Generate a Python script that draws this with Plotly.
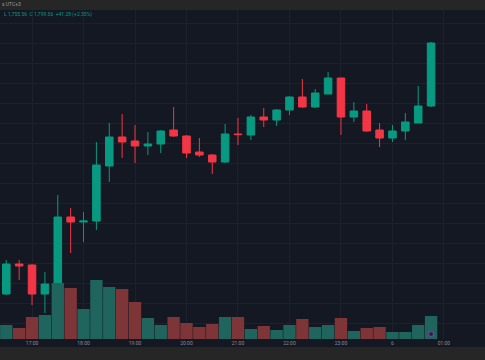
import plotly.graph_objects as go
import pandas as pd

# ---- data ----
times = pd.date_range("2023-03-05 16:30", periods=34, freq="15min")
opens = [1674.5, 1689.5, 1689.0, 1674.5, 1679.0, 1713.0, 1710.5, 1711.0, 1738.5, 1753.0,
         1751.0, 1748.5, 1749.5, 1756.5, 1753.5, 1745.5, 1744.0, 1740.5, 1754.5, 1754.0,
         1763.0, 1761.5, 1766.5, 1773.0, 1768.0, 1774.5, 1782.5, 1763.0, 1766.0, 1756.5,
         1752.5, 1756.0, 1760.0, 1768.5]
highs = [1691.5, 1691.5, 1689.5, 1685.5, 1724.0, 1717.5, 1715.5, 1750.5, 1760.0, 1764.5,
         1759.0, 1755.5, 1756.5, 1768.0, 1754.0, 1752.5, 1744.5, 1759.5, 1762.5, 1764.0,
         1767.5, 1767.0, 1773.5, 1782.0, 1777.0, 1785.5, 1782.5, 1770.5, 1769.5, 1760.0,
         1759.0, 1765.0, 1778.5, 1800.5]
lows = [1674.0, 1681.5, 1669.0, 1665.0, 1677.5, 1695.0, 1700.5, 1706.5, 1730.5, 1742.5,
        1740.0, 1744.0, 1745.0, 1753.0, 1742.5, 1743.0, 1734.5, 1740.0, 1749.0, 1751.5,
        1758.0, 1758.5, 1764.0, 1767.5, 1767.5, 1774.5, 1754.0, 1760.5, 1755.5, 1748.0,
        1750.5, 1751.5, 1760.0, 1768.0]
closes = [1689.5, 1688.5, 1674.5, 1679.5, 1713.0, 1710.5, 1711.0, 1739.0, 1753.0, 1750.5,
          1748.5, 1749.5, 1756.0, 1753.5, 1745.0, 1744.0, 1740.5, 1754.5, 1754.2, 1763.0,
          1761.5, 1766.5, 1773.0, 1768.0, 1775.0, 1782.5, 1763.0, 1766.0, 1756.0, 1752.5,
          1756.0, 1760.5, 1768.5, 1800.0]
volumes = [1400, 1100, 2200, 2400, 5600, 5100, 3000, 5900, 5200, 5000,
           3700, 2100, 1400, 2200, 1600, 1200, 1500, 2200, 2200, 1000,
           1300, 900, 1400, 2000, 1200, 1400, 2100, 800, 1100, 1200,
           700, 700, 1400, 2300]
tick_times = pd.date_range("2023-03-05 17:00", periods=9, freq="60min")
tick_labels = ["17:00", "18:00", "19:00", "20:00", "21:00", "22:00", "23:00", "6", "01:00"]
title_text = "s UTC+3"
legend_text = "L 1,755.56  C 1,799.56  +41.28 (+2.35%)"

UP = "#089981"
DOWN = "#f23645"
VOL_UP = "#1f655e"
VOL_DOWN = "#7e3538"
BG = "#141823"
GRID = "#1c212c"
BAR = "#262626"

vol_colors = [VOL_UP if c >= o else VOL_DOWN for o, c in zip(opens, closes)]

fig = go.Figure()
fig.add_trace(go.Bar(x=times, y=volumes, marker=dict(color=vol_colors, line=dict(width=0)),
                     yaxis="y2", hoverinfo="skip"))
fig.add_trace(go.Candlestick(
    x=times, open=opens, high=highs, low=lows, close=closes,
    increasing=dict(line=dict(color=UP, width=1), fillcolor=UP),
    decreasing=dict(line=dict(color=DOWN, width=1), fillcolor=DOWN),
    whiskerwidth=0, yaxis="y"))
fig.add_trace(go.Scatter(x=[times[-1]], y=[500], yaxis="y2", mode="markers",
                         marker=dict(size=5, color="#2b2140", line=dict(color="#8e3fa8", width=1)),
                         hoverinfo="skip"))

H = 360
top, bottom = 10, 339
ph = bottom - top


def py(p):
    return (bottom - p) / ph


fig.update_layout(
    width=485, height=H,
    margin=dict(l=0, r=0, t=top, b=H - bottom, autoexpand=False),
    paper_bgcolor=BG, plot_bgcolor=BG,
    showlegend=False,
    bargap=0.04, boxgap=0.16,
    xaxis=dict(type="date",
               range=["2023-03-05 16:22:40", "2023-03-06 01:47:50"],
               rangeslider=dict(visible=False),
               tickvals=tick_times, ticktext=tick_labels,
               showgrid=True, gridcolor=GRID, gridwidth=1,
               zeroline=False, showline=False, ticks="",
               tickfont=dict(size=5, color="#8a8d96", family="Roboto")),
    yaxis=dict(range=[1652, 1816.5], dtick=10, tick0=1800,
               showgrid=True, gridcolor=GRID, gridwidth=1,
               showticklabels=False, zeroline=False, showline=False),
    yaxis2=dict(range=[0, 32900], overlaying="y", visible=False,
                showgrid=False, zeroline=False),
    shapes=[
        dict(type="rect", xref="paper", yref="paper", x0=0, x1=1,
             y0=py(10), y1=py(0), fillcolor=BAR, line=dict(width=0), layer="above"),
        dict(type="rect", xref="paper", yref="paper", x0=0, x1=1,
             y0=py(360), y1=py(347), fillcolor=BAR, line=dict(width=0), layer="above"),
    ],
    annotations=[
        dict(text=title_text, xref="paper", yref="paper", x=0, y=py(4.5),
             xanchor="left", yanchor="middle", showarrow=False,
             font=dict(size=5, color="#9a9ca3", family="Roboto")),
        dict(text=legend_text, xref="paper", yref="paper", x=0.004, y=py(14),
             xanchor="left", yanchor="middle", showarrow=False,
             font=dict(size=5, color="#089981", family="Roboto")),
    ],
)

fig.write_html("out.html",
               config={"displayModeBar": False},
               post_script="document.body.style.margin='0';document.body.style.overflow='hidden';document.body.style.background='#141823';")
